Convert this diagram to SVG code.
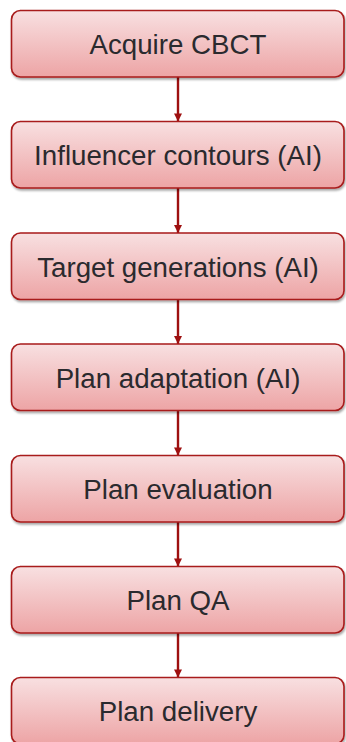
<svg xmlns="http://www.w3.org/2000/svg" width="346" height="742" viewBox="0 0 346 742">
  <defs>
    <linearGradient id="boxFill" x1="0" y1="0" x2="0" y2="1">
      <stop offset="0" stop-color="#f8e0e1"/>
      <stop offset="1" stop-color="#eda4a5"/>
    </linearGradient>
    <filter id="shadow" x="-5%" y="-10%" width="112%" height="130%">
      <feDropShadow dx="1" dy="2" stdDeviation="1.3" flood-color="#000" flood-opacity="0.35"/>
    </filter>
    <marker id="arrowHead" viewBox="0 0 10 10" refX="10" refY="5" markerWidth="9" markerHeight="8" markerUnits="userSpaceOnUse" orient="auto">
      <path d="M0,0 L10,5 L0,10 Z" fill="#9e1010"/>
    </marker>
  </defs>
  <style>
    .box { fill: url(#boxFill); stroke: #a81a1a; stroke-width: 1.6; filter: url(#shadow); }
    .label { font-family: "Liberation Sans", Arial, sans-serif; font-size: 27.7px; fill: #2a2a2e; text-anchor: middle; }
    .conn { stroke: #9e1010; stroke-width: 2.4; fill: none; marker-end: url(#arrowHead); }
  </style>

  <rect width="346" height="742" fill="#ffffff"/>

  <!-- connectors between consecutive steps -->
  <g id="connectors">
    <line class="conn" x1="178" y1="77" x2="178" y2="121.5"/>
    <line class="conn" x1="178" y1="188" x2="178" y2="233"/>
    <line class="conn" x1="178" y1="299.5" x2="178" y2="344"/>
    <line class="conn" x1="178" y1="410.5" x2="178" y2="455.5"/>
    <line class="conn" x1="178" y1="522" x2="178" y2="566.5"/>
    <line class="conn" x1="178" y1="633" x2="178" y2="677.5"/>
  </g>

  <g id="step-acquire-cbct">
    <rect class="box" x="11.5" y="10.5" width="332.5" height="66.5" rx="9"/>
    <text class="label" x="178" y="54">Acquire CBCT</text>
  </g>
  <g id="step-influencer-contours">
    <rect class="box" x="11.5" y="121.5" width="332.5" height="66.5" rx="9"/>
    <text class="label" x="178" y="165">Influencer contours (AI)</text>
  </g>
  <g id="step-target-generations">
    <rect class="box" x="11.5" y="233" width="332.5" height="66.5" rx="9"/>
    <text class="label" x="178" y="276.5">Target generations (AI)</text>
  </g>
  <g id="step-plan-adaptation">
    <rect class="box" x="11.5" y="344" width="332.5" height="66.5" rx="9"/>
    <text class="label" x="178" y="387.5">Plan adaptation (AI)</text>
  </g>
  <g id="step-plan-evaluation">
    <rect class="box" x="11.5" y="455.5" width="332.5" height="66.5" rx="9"/>
    <text class="label" x="178" y="499">Plan evaluation</text>
  </g>
  <g id="step-plan-qa">
    <rect class="box" x="11.5" y="566.5" width="332.5" height="66.5" rx="9"/>
    <text class="label" x="178" y="610">Plan QA</text>
  </g>
  <g id="step-plan-delivery">
    <rect class="box" x="11.5" y="677.5" width="332.5" height="66.5" rx="9"/>
    <text class="label" x="178" y="721">Plan delivery</text>
  </g>
</svg>
